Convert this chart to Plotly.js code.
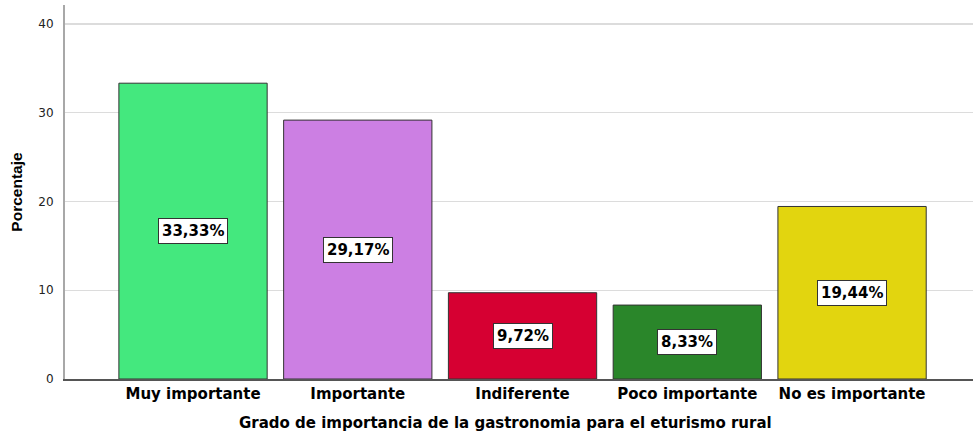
<!DOCTYPE html>
<html>
<head>
<meta charset="utf-8">
<script src="https://cdn.plot.ly/plotly-3.0.1.min.js"></script>
<style>html,body{margin:0;padding:0;background:#fff;}#chart{width:973px;height:436px;}</style>
</head>
<body>
<div id="chart"></div>
<script>
const categories = ["Muy importante", "Importante", "Indiferente", "Poco importante", "No es importante"];
const percentages = [33.33, 29.17, 9.72, 8.33, 19.44];
const barColors = ["#44E87E", "#CC7FE3", "#D60032", "#2A862A", "#E2D50F"];
const yTicks = [0, 10, 20, 30, 40];
const xTitle = 'Grado de importancia de la gastronomia para el eturismo rural';
const yTitle = 'Porcentaje';

const WIDE = 'DejaVu Sans, Verdana, sans-serif';
const ARIAL = 'Liberation Sans, Arial, sans-serif';
const fmt = v => v.toFixed(2).replace('.', ',') + '%';

const trace = {
  type: 'bar',
  x: categories,
  y: percentages,
  marker: { color: barColors, line: { color: '#333333', width: 1 } },
  width: 0.9,
  hoverinfo: 'none'
};

const annotations = categories.map((c, i) => ({
  x: c, y: percentages[i] / 2, xref: 'x', yref: 'y',
  text: fmt(percentages[i]), showarrow: false,
  bgcolor: '#ffffff', bordercolor: '#333333', borderwidth: 1, borderpad: 3,
  font: { family: WIDE, size: 15, color: '#000', weight: 'bold' }
}));
annotations.push({
  x: 0.4846, xref: 'paper', xanchor: 'center',
  y: 13, yref: 'paper', yshift: 0,
  text: xTitle, showarrow: false
});

const layout = {
  width: 973, height: 436,
  margin: { l: 65, r: 0, t: 5, b: 57 },
  paper_bgcolor: '#fff', plot_bgcolor: '#fff',
  showlegend: false,
  xaxis: {
    type: 'category',
    range: [-0.777, 4.734],
    showgrid: false,
    showline: true, linecolor: '#555555', linewidth: 1.5,
    ticks: '', ticklen: 0,
    tickfont: { family: WIDE, size: 15, color: '#000', weight: 'bold' }
  },
  yaxis: {
    range: [0, 42.14],
    tickvals: yTicks,
    ticktext: yTicks.map(String),
    showgrid: true, gridcolor: '#dcdcdc', gridwidth: 1.5,
    zeroline: false,
    showline: true, linecolor: '#a8a8a8', linewidth: 2,
    ticks: '', ticklabelstandoff: 7,
    tickfont: { family: WIDE, size: 12, color: '#222' },
    title: { text: yTitle, standoff: 12,
      font: { family: ARIAL, size: 15.5, color: '#000', weight: 'bold' } }
  },
  annotations: annotations
};

// x-axis title as a paper annotation, placed below the plot (center y ≈ 423px)
const plotH = 436 - 5 - 57;
annotations[annotations.length - 1].y = -(423 - (5 + plotH)) / plotH;
annotations[annotations.length - 1].yanchor = 'middle';
annotations[annotations.length - 1].font = { family: WIDE, size: 15, color: '#000', weight: 'bold' };

Plotly.newPlot('chart', [trace], layout, { displayModeBar: false, staticPlot: true });
</script>
</body>
</html>
